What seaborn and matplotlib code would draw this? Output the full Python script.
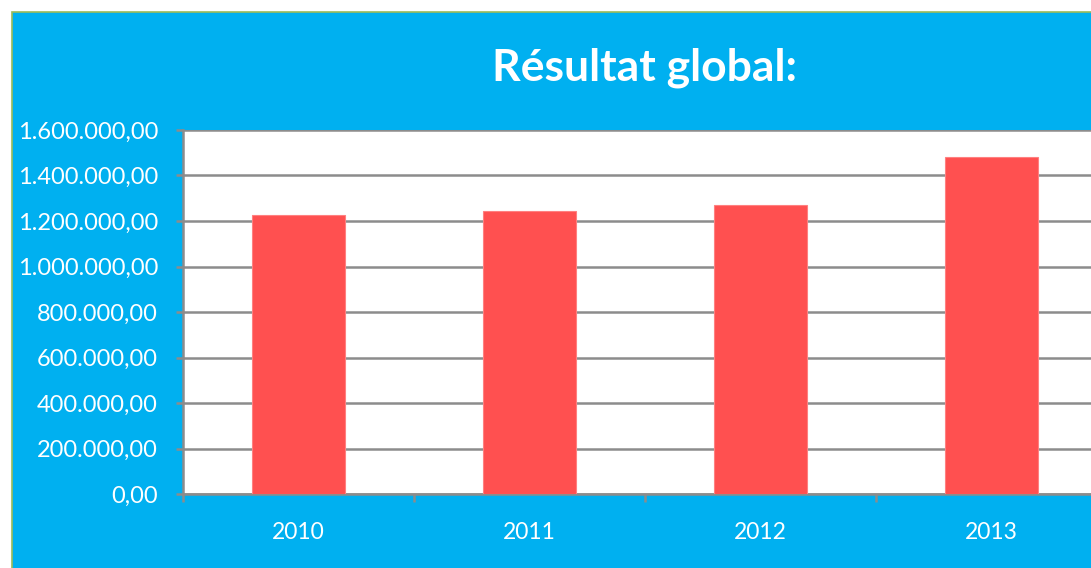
import numpy as np
import pandas as pd
import seaborn as sns
import matplotlib.pyplot as plt
from matplotlib.patches import Rectangle
from matplotlib.ticker import FuncFormatter, FixedLocator

years = ["2010", "2011", "2012", "2013"]
results = [1226000, 1243000, 1270000, 1481000]
yticks = [0, 200000, 400000, 600000, 800000, 1000000, 1200000, 1400000, 1600000]

BLUE = "#00B0F0"
RED = "#FF5050"
GRID = "#8C8C8C"

sns.set_theme(style="white")
plt.rcParams['font.family'] = ['Lato', 'DejaVu Sans']

fig = plt.figure(figsize=(10.91, 5.68), dpi=100)
fig.patch.set_facecolor("white")

# blue chart area with thin outline (cropped at right/bottom)
fig.patches.append(Rectangle((12 / 1091, -0.01), 1.0, (568 - 12) / 568 + 0.01,
                             transform=fig.transFigure, facecolor=BLUE,
                             edgecolor="#9BBB59", linewidth=1.2, zorder=-5))

ax = fig.add_axes([183 / 1091, 74 / 568, 924 / 1091, 364 / 568])
df = pd.DataFrame({"year": years, "value": results})
sns.barplot(data=df, x="year", y="value", color=RED, width=0.4,
            saturation=1, ax=ax, zorder=3, edgecolor="#FF8080", linewidth=0.8)

ax.set_facecolor("white")
ax.set_xlim(-0.5, 3.5)
ax.set_ylim(0, 1600000)
ax.set_yticks(yticks)
ax.yaxis.set_major_formatter(FuncFormatter(
    lambda v, p: f"{v:,.2f}".replace(",", "X").replace(".", ",").replace("X", ".")))
ax.grid(axis="y", color=GRID, linewidth=1.8, zorder=1)
ax.set_axisbelow(True)
ax.set_xlabel("")
ax.set_ylabel("")

for s in ["top", "right"]:
    ax.spines[s].set_visible(False)
for s in ["left", "bottom"]:
    ax.spines[s].set_color(GRID)
    ax.spines[s].set_linewidth(1.8)

ax.tick_params(axis="y", which="major", left=True, length=5, width=1.8,
               color=GRID, labelcolor="white", labelsize=17, pad=13)
ax.tick_params(axis="x", which="major", bottom=False, labelcolor="white",
               labelsize=16.5, pad=14)
ax.xaxis.set_minor_locator(FixedLocator([-0.5, 0.5, 1.5, 2.5, 3.5]))
ax.tick_params(axis="x", which="minor", bottom=True, length=6, width=1.8,
               color=GRID)

fig.text(645 / 1091, 1 - 68 / 568, "Résultat global:", color="white",
         fontsize=32, fontweight="bold", ha="center", va="center")

fig.savefig("out.png", dpi=100)
